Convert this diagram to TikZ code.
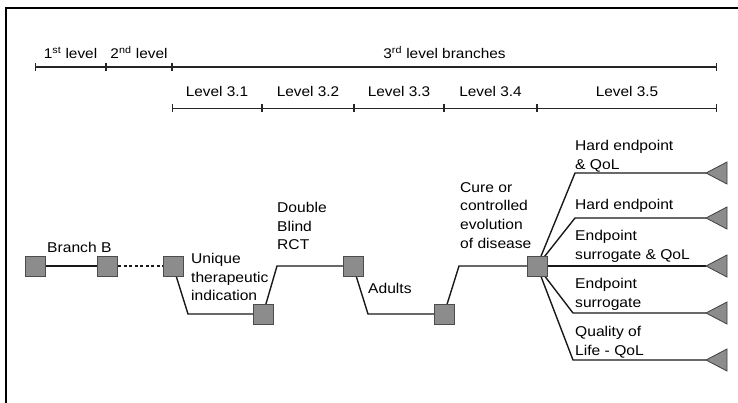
\documentclass[tikz,border=0pt]{standalone}
\usepackage{fontspec}
\setmainfont{Liberation Sans}[FakeStretch=1.1]
\usetikzlibrary{backgrounds,calc,arrows.meta}
\begin{document}
\begin{tikzpicture}[x=1pt,y=-1pt,
  lbl/.style={anchor=north west, inner sep=0pt, align=left, font=\fontsize{14.2}{18.7}\selectfont, text=black},
  hdr/.style={anchor=base, inner sep=0pt, font=\fontsize{14}{16}\selectfont, text=black},
  sq/.style={draw=black!70, fill=black!45, minimum size=20pt, inner sep=0pt, line width=0.8pt},
  conn/.style={draw=black!90, line width=1.4pt},
  tri/.style={draw=black!75, fill=black!45, line width=0.8pt, line join=miter},
  scl/.style={draw=black!85, line width=1.3pt, {Bar[width=8pt,line width=1pt]}-{Bar[width=8pt,line width=1pt]}}]
\useasboundingbox (0,0) rectangle (738,403);
% frame (cropped: top and left only)
\draw[line width=2pt, black] (6,403) -- (6,8) -- (738,8);

% scales
\coordinate (s0) at (35,67);
\coordinate (s1) at (106,67);
\coordinate (s2) at (172,67);
\coordinate (s3) at (717,67);
\coordinate (r0) at (172,108.5);
\coordinate (r1) at (262,108.5);
\coordinate (r2) at (354,108.5);
\coordinate (r3) at (444,108.5);
\coordinate (r4) at (537,108.5);
\coordinate (r5) at (717,108.5);
\draw[scl] (s0) -- (s1);
\draw[scl] (s1) -- (s2);
\draw[scl] (s2) -- (s3);
\foreach \a/\b in {r0/r1,r1/r2,r2/r3,r3/r4,r4/r5} \draw[scl] (\a) -- (\b);

\node[hdr] (h1) at ($(s0)!0.5!(s1)+(0,-8)$) {1\textsuperscript{st} level};
\node[hdr] (h2) at ($(s1)!0.5!(s2)+(0,-8)$) {2\textsuperscript{nd} level};
\node[hdr] (h3) at ($(s2)!0.5!(s3)+(0,-8)$) {3\textsuperscript{rd} level branches};
\node[hdr] (l31) at ($(r0)!0.5!(r1)+(0,-11.5)$) {Level 3.1};
\node[hdr] (l32) at ($(r1)!0.5!(r2)+(0,-11.5)$) {Level 3.2};
\node[hdr] (l33) at ($(r2)!0.5!(r3)+(0,-11.5)$) {Level 3.3};
\node[hdr] (l34) at ($(r3)!0.5!(r4)+(0,-11.5)$) {Level 3.4};
\node[hdr] (l35) at ($(r4)!0.5!(r5)+(0,-11.5)$) {Level 3.5};

% tree nodes
\node[sq] (b1) at (35,266) {};
\node[sq] (b2) at (107,266) {};
\node[sq] (b3) at (173,266) {};
\node[sq] (b4) at (263,314) {};
\node[sq] (b5) at (353,266) {};
\node[sq] (b6) at (444,314) {};
\node[sq] (b7) at (537,266) {};
\coordinate (k1) at (188,314);
\coordinate (k2) at (277,266);
\coordinate (k3) at (368,314);
\coordinate (k4) at (459,266);
\coordinate (e1) at (575,173);
\coordinate (e2) at (575,218);
\coordinate (e4) at (573,313);
\coordinate (e5) at (573,360);
\coordinate (t1) at (706,173);
\coordinate (t2) at (706,218);
\coordinate (t3) at (706,266);
\coordinate (t4) at (706,313);
\coordinate (t5) at (706,360);
\foreach \t in {t1,t2,t3,t4,t5}
  \draw[tri] (\t) -- ++(21,-11) -- ++(0,22) -- cycle;

\begin{scope}[on background layer]
\draw[conn] (b1.center) -- (b2.center);
\draw[conn, dash pattern=on 3pt off 2.5pt] (b2.center) -- (b3.center);
\draw[conn] (b3.center) -- (k1) -- (b4.center);
\draw[conn] (b4.center) -- (k2) -- (b5.center);
\draw[conn] (b5.center) -- (k3) -- (b6.center);
\draw[conn] (b6.center) -- (k4) -- (b7.center);
\draw[conn] (b7.center) -- (e1) -- (t1);
\draw[conn] (b7.center) -- (e2) -- (t2);
\draw[conn] (b7.center) -- (t3);
\draw[conn] (b7.center) -- (e4) -- (t4);
\draw[conn] (b7.center) -- (e5) -- (t5);
\end{scope}

% labels
\node[lbl] (tb) at (47,242) {Branch B};
\node[lbl] (tu) at (191,253) {Unique\\therapeutic\\indication};
\node[lbl] (td) at (277,202) {Double\\Blind\\RCT};
\node[lbl] (ta) at (368,283) {Adults};
\node[lbl] (tc) at (460,182) {Cure or\\controlled\\evolution\\of disease};
\node[lbl] (o1) at (575,140) {Hard endpoint\\\& QoL};
\node[lbl] (o2) at (575,199) {Hard endpoint};
\node[lbl] (o3) at (575,230) {Endpoint\\surrogate \& QoL};
\node[lbl] (o4) at (575,278) {Endpoint\\surrogate};
\node[lbl] (o5) at (575,326) {Quality of\\Life - QoL};
\end{tikzpicture}
\end{document}
